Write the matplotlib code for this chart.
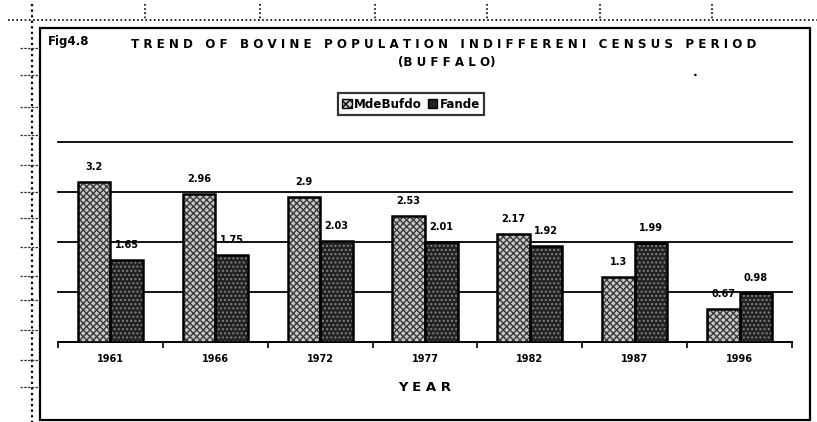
import matplotlib
matplotlib.use("Agg")
import matplotlib.pyplot as plt
from matplotlib.patches import Rectangle, Patch
from matplotlib.lines import Line2D
import numpy as np

years = ["1961", "1966", "1972", "1977", "1982", "1987", "1996"]
male = [3.2, 2.96, 2.9, 2.53, 2.17, 1.3, 0.67]
female = [1.65, 1.75, 2.03, 2.01, 1.92, 1.99, 0.98]
legend_labels = ["MdeBufdo", "Fande"]

W, H = 817, 422
fig = plt.figure(figsize=(W / 100, H / 100), dpi=100)
fig.patch.set_facecolor("white")

def fx(px):
    return px / W

def fy(py):
    return 1 - py / H

# scanned sheet decorations: dotted cell lines and outer chart frame
fig.add_artist(Line2D([fx(8), fx(817)], [fy(20), fy(20)], color="black",
                      lw=1.2, ls=(0, (1, 1.5))))
fig.add_artist(Line2D([fx(32), fx(32)], [fy(4), fy(422)], color="black",
                      lw=1.6, ls=(0, (1, 1.5))))
for px in [145, 260, 375, 487, 600, 712]:
    fig.add_artist(Line2D([fx(px), fx(px)], [fy(4), fy(20)], color="black",
                          lw=1.2, ls=(0, (1, 1.5))))
for py in [48, 75, 107, 135, 165, 192, 218, 247, 276, 300, 330, 360, 387]:
    fig.add_artist(Line2D([fx(20), fx(40)], [fy(py), fy(py)], color="#333333",
                          lw=0.9, ls=(0, (2, 1))))
fig.add_artist(Rectangle((fx(40), fy(420)), fx(810) - fx(40), fy(28) - fy(420),
                         fill=False, edgecolor="black", lw=1.6))

# plot area
ax = fig.add_axes([fx(58), fy(342), fx(792) - fx(58), fy(142) - fy(342)])
x = np.arange(len(years))
w = 0.31

ax.bar(x - w / 2, male, w, color="#c8c8c8", edgecolor="#3a3a3a",
       hatch="xxxxx", lw=0, zorder=3)
ax.bar(x - w / 2, male, w, fill=False, edgecolor="black", lw=1.8, zorder=4)
ax.bar(x + w / 2, female, w, color="#222222", edgecolor="#808080",
       hatch="....", lw=0, zorder=3)
ax.bar(x + w / 2, female, w, fill=False, edgecolor="black", lw=1.8, zorder=4)

for yv in [1, 2, 3, 4]:
    ax.axhline(yv, color="black", lw=1.3, zorder=2, clip_on=False)

for xi, v in zip(x, male):
    ax.annotate(str(v), (xi - w / 2, v), xytext=(0, 7), textcoords="offset points",
                ha="center", va="bottom", fontsize=7, fontweight="bold")
for xi, v in zip(x, female):
    ax.annotate(str(v), (xi + w / 2, v), xytext=(0, 7), textcoords="offset points",
                ha="center", va="bottom", fontsize=7, fontweight="bold")

ax.set_xlim(-0.5, len(years) - 0.5)
ax.set_ylim(0, 4)
for s in ["left", "right", "top"]:
    ax.spines[s].set_visible(False)
ax.spines["bottom"].set_linewidth(1.4)
ax.set_yticks([])
ax.set_xticks(x)
ax.set_xticklabels(years, fontsize=7, fontweight="bold")
ax.tick_params(axis="x", which="major", length=0, pad=9)
ax.set_xticks(np.arange(-0.5, len(years), 1), minor=True)
ax.tick_params(axis="x", which="minor", length=4, width=1.2, direction="out")
ax.set_xlabel("Y E A R", fontsize=9.5, fontweight="bold", labelpad=12)

# titles
fig.text(fx(48), fy(42), "Fig4.8", fontsize=8.5, fontweight="bold", va="center")
title = "   ".join(" ".join(word) for word in
                   "TREND OF BOVINE POPULATION INDIFFERENI CENSUS PERIOD".split())
fig.text(fx(444), fy(45), title, fontsize=8.6, fontweight="bold",
         ha="center", va="center")
fig.text(fx(447), fy(63), "(B U F F A L O)", fontsize=8.6, fontweight="bold",
         ha="center", va="center")
fig.text(fx(695), fy(72), ".", fontsize=9, fontweight="bold", ha="center", va="center")

handles = [Patch(facecolor="#c8c8c8", edgecolor="black", hatch="xxxx", lw=1),
           Patch(facecolor="#222222", edgecolor="black", lw=1)]
leg = fig.legend(handles, legend_labels, loc="center",
                 bbox_to_anchor=(fx(411), fy(104)), ncol=2,
                 handlelength=0.8, handleheight=0.8, handletextpad=0.2,
                 columnspacing=0.5, borderpad=0.35, fancybox=False,
                 frameon=True, edgecolor="black", prop={"weight": "bold", "size": 8.6})
leg.get_frame().set_linewidth(1.6)

fig.savefig("out.png", dpi=100, facecolor="white")
